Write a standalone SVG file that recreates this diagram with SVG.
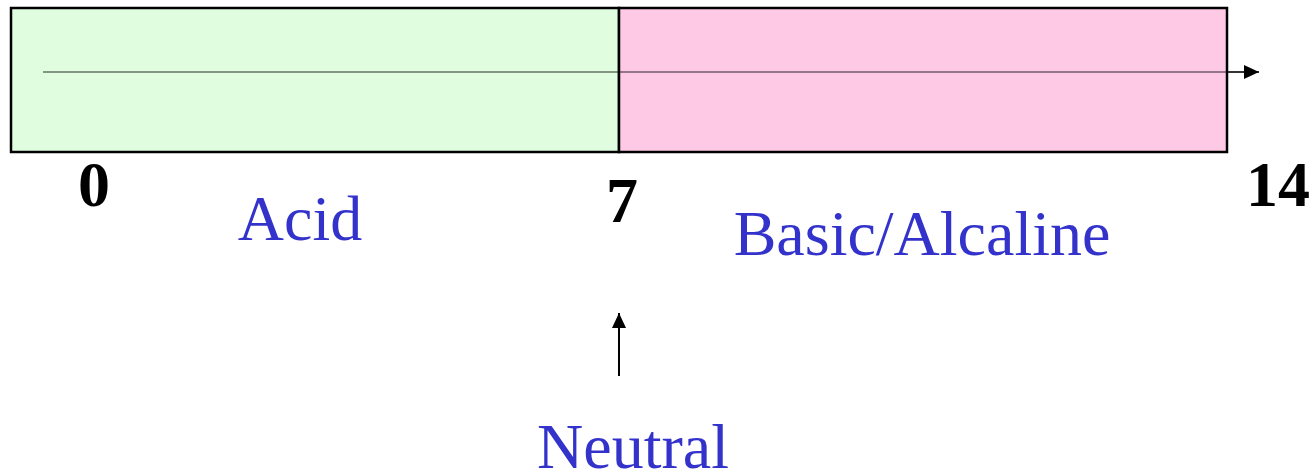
<svg xmlns="http://www.w3.org/2000/svg" width="1314" height="474" viewBox="0 0 1314 474">
<style>
.num{font-family:"Liberation Serif",serif;font-weight:bold;font-size:64px;fill:#000;text-anchor:middle}
.lbl{font-family:"Liberation Serif",serif;font-size:64px;fill:#3333cc;text-anchor:middle}
.box{stroke:#000;stroke-width:2.5}
</style>
<defs>
<marker id="ah" markerWidth="16" markerHeight="16" refX="15" refY="7" orient="auto" markerUnits="userSpaceOnUse">
<path d="M0,0 L15,7 L0,14 Z" fill="#000"/>
</marker>
</defs>
<rect width="1314" height="474" fill="#fff"/>
<g id="acid-region"><rect class="box" x="11" y="8" width="608" height="144" fill="#e0fde0"/></g>
<g id="basic-region"><rect class="box" x="619" y="8" width="608" height="144" fill="#fdc9e4"/></g>
<g id="connectors">
<line x1="43" y1="72" x2="1227" y2="72" stroke="#000" stroke-opacity="0.55" stroke-width="1.6"/>
<line x1="1227" y1="72" x2="1259" y2="72" stroke="#000" stroke-width="1.6" marker-end="url(#ah)"/>
<line x1="619" y1="376" x2="619" y2="313" stroke="#000" stroke-width="2" marker-end="url(#ah)"/>
</g>
<g id="labels">
<text class="num" x="94" y="206">0</text>
<text class="num" x="622" y="222">7</text>
<text class="num" x="1278" y="206">14</text>
<text class="lbl" x="300" y="240">Acid</text>
<text class="lbl" x="922" y="255">Basic/Alcaline</text>
<text class="lbl" x="633" y="468">Neutral</text>
</g>
</svg>
